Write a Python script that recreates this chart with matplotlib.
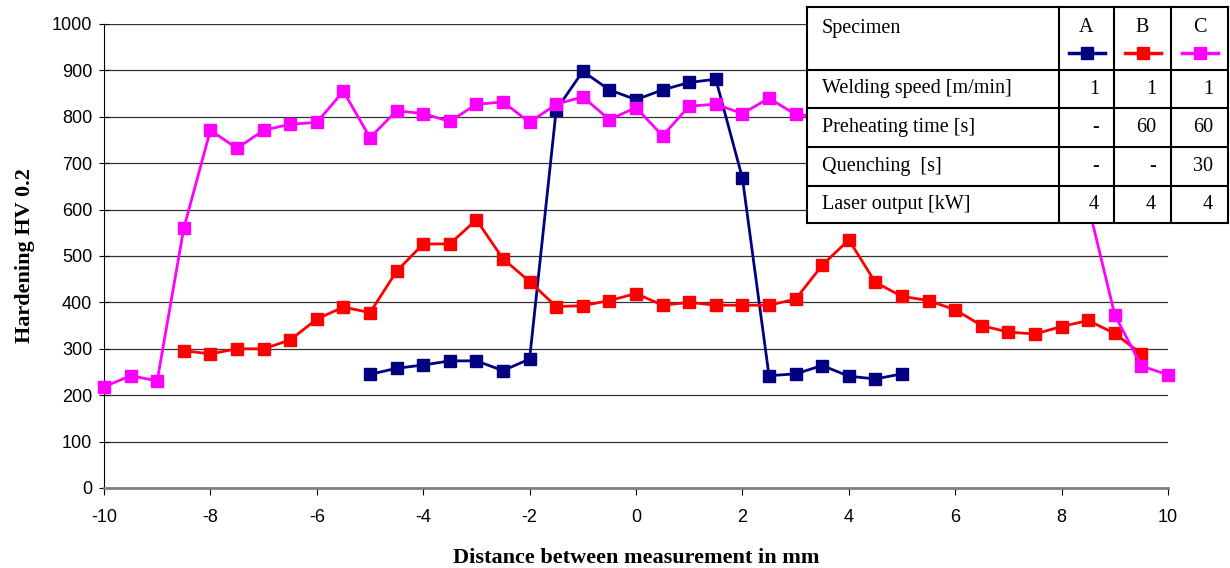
import numpy as np
import matplotlib
matplotlib.use("Agg")
import matplotlib.pyplot as plt

plt.rcParams["axes.unicode_minus"] = False

# distance (mm) and hardness HV 0.2 for the three specimens
x_a = np.arange(-5, 5.01, 0.5)
hv_a = [245, 258, 265, 274, 274, 253, 278, 815, 898, 858, 837,
        858, 874, 881, 668, 242, 246, 264, 241, 235, 246]

x_b = np.arange(-8.5, 9.51, 0.5)
hv_b = [296, 289, 300, 300, 319, 364, 390, 378, 467, 526, 526, 578,
        494, 445, 391, 393, 404, 419, 394, 400, 394, 394, 394, 407,
        480, 535, 443, 413, 404, 384, 350, 336, 332, 348, 361, 333, 289]

x_c = np.arange(-10, 10.01, 0.5)
hv_c = [218, 242, 231, 560, 771, 732, 771, 784, 788, 855, 755, 813,
        807, 790, 827, 832, 788, 827, 843, 794, 820, 759, 823, 827,
        807, 840, 805, 800, 795, 810, 790, 800, 785, 790, 775, 780,
        760, 610, 373, 263, 244]

series = [("A", x_a, hv_a, "#000080"),
          ("B", x_b, hv_b, "#FF0000"),
          ("C", x_c, hv_c, "#FF00FF")]

# table contents
row_labels = ["Welding speed [m/min]", "Preheating time [s]",
              "Quenching  [s]", "Laser output [kW]"]
row_values = [["1", "1", "1"], ["-", "60", "60"], ["-", "-", "30"],
              ["4", "4", "4"]]

W, H = 1230, 568
fig = plt.figure(figsize=(W / 100, H / 100), dpi=100)
ax = fig.add_axes([104 / W, 1 - 488 / H, (1168 - 104) / W, (488 - 24) / H])

for name, xs, ys, col in series:
    ax.plot(xs, ys, color=col, lw=2, marker="s", ms=8, mec=col, mfc=col,
            zorder=3, clip_on=False)

ax.set_xlim(-10, 10)
ax.set_ylim(0, 1000)
ax.set_xticks(np.arange(-10, 11, 2))
ax.set_yticks(np.arange(0, 1001, 100))
ax.yaxis.grid(True, color="#333333", lw=0.9)
ax.set_axisbelow(True)
for s in ["top", "right"]:
    ax.spines[s].set_visible(False)
ax.spines["left"].set_color("black")
ax.spines["bottom"].set_color("#808080")
ax.spines["bottom"].set_linewidth(2)
ax.tick_params(axis="y", direction="inout", length=7, labelsize=13, pad=5)
ax.tick_params(axis="x", direction="out", length=5, labelsize=13, pad=10)
for lab in ax.get_xticklabels() + ax.get_yticklabels():
    lab.set_family("Liberation Sans")

ax.set_ylabel("Hardening HV 0.2", family="Liberation Serif",
              fontweight="bold", fontsize=16, labelpad=12)
ax.set_xlabel("Distance between measurement in mm", family="Liberation Serif",
              fontweight="bold", fontsize=16, labelpad=16)

# parameter table drawn in pixel units
tx0, ty0, tx1, ty1 = 807, 7, 1228, 223
tab = fig.add_axes([tx0 / W, 1 - ty1 / H, (tx1 - tx0) / W, (ty1 - ty0) / H])
tab.set_xlim(tx0, tx1)
tab.set_ylim(ty1, ty0)
tab.axis("off")
tab.add_patch(plt.Rectangle((tx0, ty0), tx1 - tx0, ty1 - ty0,
                            facecolor="white", edgecolor="none", zorder=0))
cols = [807, 1059, 1114, 1171, 1228]
rows = [7, 70, 108, 147, 186, 223]
for c in cols:
    tab.plot([c, c], [ty0, ty1], color="black", lw=1.5, clip_on=False)
for r in rows:
    tab.plot([tx0, tx1], [r, r], color="black", lw=1.5, clip_on=False)

tfont = dict(family="Liberation Serif", fontsize=14.5, color="black")
tab.text(822, 28, "Specimen", ha="left", va="center", **tfont)
for i, (name, xs, ys, col) in enumerate(series):
    cx = (cols[i + 1] + cols[i + 2]) / 2
    tab.text(cx, 28, name, ha="center", va="center", **tfont)
    tab.plot([cx - 18, cx + 18], [53, 53], color=col, lw=2.5)
    tab.plot([cx], [53], marker="s", ms=9, color=col)
for j, lab in enumerate(row_labels):
    cy = (rows[j + 1] + rows[j + 2]) / 2
    tab.text(822, cy, lab, ha="left", va="center", **tfont)
    for i, v in enumerate(row_values[j]):
        tab.text(cols[i + 2] - 15, cy, v, ha="right", va="center", **tfont)

fig.savefig("out.png", dpi=100)
